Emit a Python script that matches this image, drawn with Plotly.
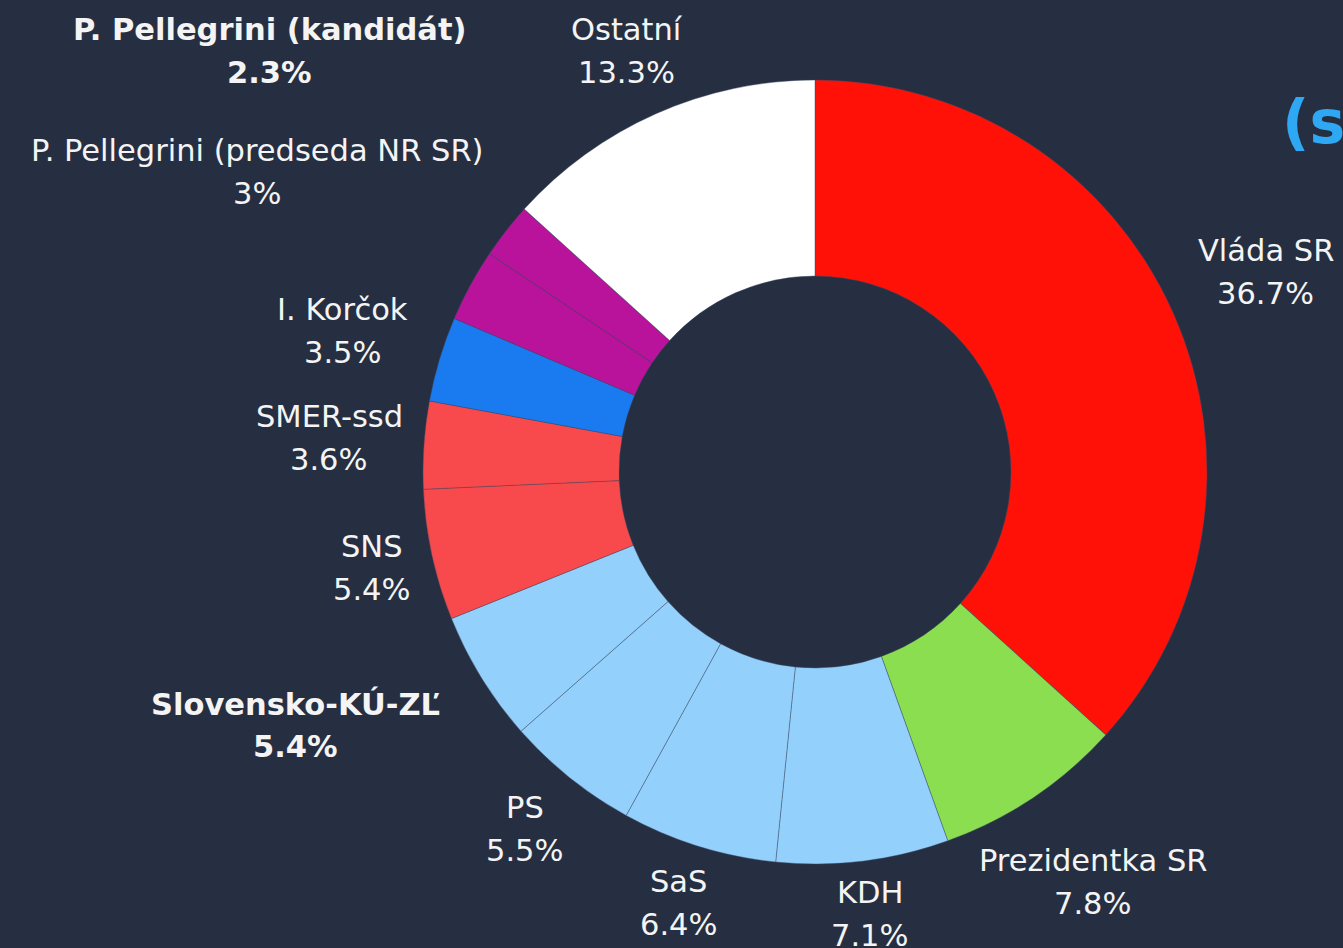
import math
import plotly.graph_objects as go

# ---- data ----
labels = ["Vláda SR", "Prezidentka SR", "KDH", "SaS", "PS", "Slovensko-KÚ-ZĽ",
          "SNS", "SMER-ssd", "I. Korčok", "P. Pellegrini (predseda NR SR)",
          "P. Pellegrini (kandidát)", "Ostatní"]
values = [36.7, 7.8, 7.1, 6.4, 5.5, 5.4, 5.4, 3.6, 3.5, 3.0, 2.3, 13.3]
value_text = ["36.7%", "7.8%", "7.1%", "6.4%", "5.5%", "5.4%", "5.4%", "3.6%",
              "3.5%", "3%", "2.3%", "13.3%"]
highlighted = ["Slovensko-KÚ-ZĽ", "P. Pellegrini (kandidát)"]

# ---- style ----
W, H = 1343, 948
BG = "#262F42"
colors = ["#FF1108", "#8ADE4F", "#94D0FC", "#94D0FC", "#94D0FC", "#94D0FC",
          "#F84A4C", "#F84A4C", "#1A7AF0", "#B9139B", "#B9139B", "#FFFFFF"]
CX, CY, R = 815, 472, 392
LABEL_R = 493
FONT = "DejaVu Sans"
FS = 30.5
# pixel nudges for crowded labels (label placement only)
nudge = {
    "Prezidentka SR": (3, 0),
    "KDH": (-5, -48),
    "SaS": (10, -40),
    "PS": (18, -28),
    "Slovensko-KÚ-ZĽ": (-100, -6),
    "SNS": (39, -9),
    "SMER-ssd": (6, 0),
    "P. Pellegrini (predseda NR SR)": (-124, -66),
    "P. Pellegrini (kandidát)": (-157, -118),
    "Ostatní": (12, 29),
}

fig = go.Figure(go.Pie(
    labels=labels, values=values, sort=False, direction="clockwise", rotation=0,
    hole=0.5, textinfo="none", hoverinfo="label+percent",
    marker=dict(colors=colors, line=dict(color="rgba(60,75,100,0.7)", width=0.6)),
    domain=dict(x=[(CX - R) / W, (CX + R) / W], y=[1 - (CY + R) / H, 1 - (CY - R) / H]),
    showlegend=False,
))

total = sum(values)
cum = 0.0
annotations = []
for lab, v, vt in zip(labels, values, value_text):
    mid = (cum + v / 2) / total * 2 * math.pi
    cum += v
    px = CX + LABEL_R * math.sin(mid)
    py = CY - LABEL_R * math.cos(mid)
    dx, dy = nudge.get(lab, (0, 0))
    px += dx
    py += dy
    bold = lab in highlighted
    t1 = f"<b>{lab}</b>" if bold else lab
    t2 = f"<b>{vt}</b>" if bold else vt
    for txt, off in ((t1, -21), (t2, 22)):
        annotations.append(dict(
            x=px / W, y=1 - (py + off) / H, xref="paper", yref="paper",
            text=txt, showarrow=False, xanchor="center", yanchor="middle",
            font=dict(family=FONT, size=FS, color="#F4F4F4"),
        ))

annotations.append(dict(
    x=1280 / W, y=1 - 122 / H, xref="paper", yref="paper", text="<b>(s</b>",
    showarrow=False, xanchor="left", yanchor="middle",
    font=dict(family=FONT, size=60, color="#2FA8F4"),
))

fig.update_layout(
    width=W, height=H, margin=dict(l=0, r=0, t=0, b=0),
    paper_bgcolor=BG, plot_bgcolor=BG, annotations=annotations,
)
fig.write_html(
    "out.html",
    config={"displayModeBar": False},
    post_script=("document.body.style.margin='0';document.body.style.overflow='hidden';"
                 "document.body.style.background='%s';" % BG),
)
